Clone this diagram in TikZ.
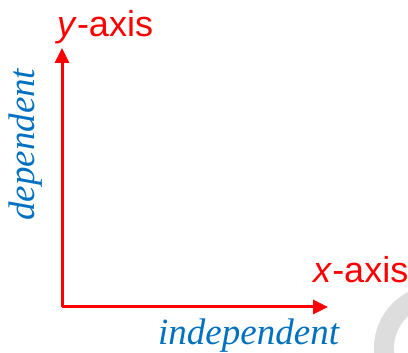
\documentclass[tikz,border=0pt]{standalone}
\usepackage{fontspec}
\setmainfont{Liberation Serif}
\setsansfont{Liberation Sans}
\usetikzlibrary{arrows.meta}
\definecolor{axred}{RGB}{255,0,0}
\definecolor{labblue}{RGB}{0,112,192}
\definecolor{ringgray}{RGB}{221,221,221}
\begin{document}
\begin{tikzpicture}[x=1pt,y=1pt,
  axis/.style={draw=axred,line width=3pt,-{Triangle[length=15pt,width=14pt]}},
  axlabel/.style={text=axred,font=\sffamily\fontsize{36}{36}\selectfont,inner sep=0pt},
  varlabel/.style={text=labblue,font=\itshape\fontsize{37}{37}\selectfont,inner sep=0pt}]
\useasboundingbox (0,0) rectangle (408,353);
\begin{scope}
  \clip (0,0) rectangle (408,353);
  \draw[ringgray,line width=20pt] (437,5) circle (53);
\end{scope}
\coordinate (O) at (62,46);
\coordinate (Y) at (62,305);
\coordinate (X) at (328,46);
\draw[axis] (O) -- (Y);
\draw[axis] (O) -- (X);
\node[axlabel,anchor=base west] (ylab) at (57,316) {\textit{y}-axis};
\node[axlabel,anchor=base west] (xlab) at (313,70) {\textit{x}-axis};
\node[varlabel,anchor=base west] (indep) at (158,8) {independent};
\node[varlabel,anchor=base west,rotate=90] (dep) at (35,132) {dependent};
\end{tikzpicture}
\end{document}
